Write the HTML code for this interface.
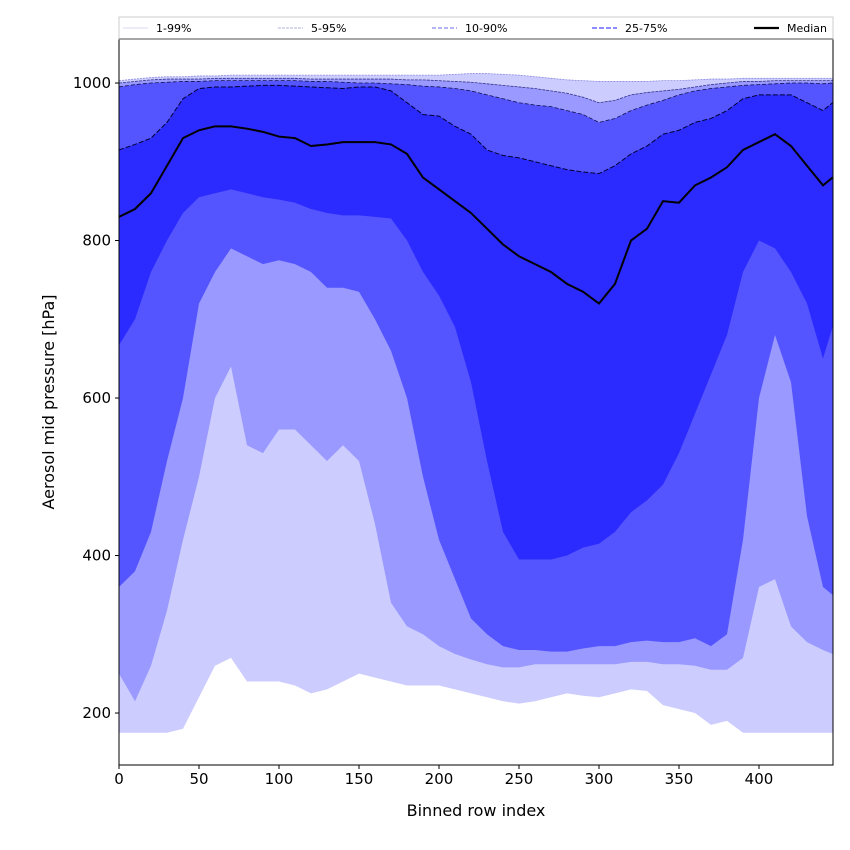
<!DOCTYPE html>
<html><head><meta charset="utf-8"><style>
html,body{margin:0;padding:0;background:#fff;}
svg{display:block;font-family:"DejaVu Sans","Liberation Sans",sans-serif;}
</style></head><body>
<svg id="chart" width="850" height="850" viewBox="0 0 850 850"></svg>
<script>
const xs = [0,10,20,30,40,50,60,70,80,90,100,110,120,130,140,150,160,170,180,190,200,210,220,230,240,250,260,270,280,290,300,310,320,330,340,350,360,370,380,390,400,410,420,430,440,446];
const p1 = [175,175,175,175,180,220,260,270,240,240,240,235,225,230,240,250,245,240,235,235,235,230,225,220,215,212,215,220,225,222,220,225,230,228,210,205,200,185,190,175,175,175,175,175,175,175];
const p5 = [250,215,260,330,420,500,600,640,540,530,560,560,540,520,540,520,440,340,310,300,285,275,268,262,258,258,262,262,262,262,262,262,265,265,262,262,260,255,255,270,360,370,310,290,280,275];
const p10 = [360,380,430,520,600,720,760,790,780,770,775,770,760,740,740,735,700,660,600,500,420,370,320,300,285,280,280,278,278,282,285,285,290,292,290,290,295,285,300,420,600,680,620,450,360,350];
const p25 = [667,700,760,800,835,855,860,865,860,855,852,848,840,835,832,832,830,828,800,760,730,690,620,520,430,395,395,395,400,410,415,430,455,470,490,530,580,630,680,760,800,790,760,720,650,690];
const median = [830,840,860,895,930,940,945,945,942,938,932,930,920,922,925,925,925,922,910,880,865,850,835,815,795,780,770,760,745,735,720,745,800,815,850,848,870,880,893,915,925,935,920,895,870,880];
const p75 = [915,922,930,950,980,993,995,995,996,997,997,996,995,994,993,995,995,990,975,960,958,945,935,915,908,905,900,895,890,887,885,895,910,920,935,940,950,955,965,980,985,985,985,975,965,975];
const p90 = [995,998,1000,1001,1002,1002,1003,1003,1003,1003,1003,1003,1002,1002,1001,1000,1000,999,998,996,995,993,990,985,980,975,972,970,965,960,950,955,965,972,978,985,990,993,995,997,998,999,1000,1000,999,1000];
const p95 = [1000,1002,1004,1005,1005,1005,1006,1006,1006,1006,1006,1006,1005,1005,1005,1005,1005,1005,1004,1004,1003,1002,1001,999,997,995,993,990,987,982,975,978,985,988,990,992,995,998,1000,1002,1002,1003,1003,1003,1003,1003];
const p99 = [1003,1005,1007,1008,1008,1009,1009,1010,1010,1010,1010,1010,1010,1010,1010,1010,1010,1010,1010,1010,1010,1011,1012,1012,1011,1010,1008,1006,1004,1003,1002,1002,1002,1002,1003,1003,1004,1005,1005,1006,1006,1006,1006,1006,1006,1006];
const xTicks = [0,50,100,150,200,250,300,350,400];
const yTicks = [200,400,600,800,1000];
const legendLabels = ["1-99%","5-95%","10-90%","25-75%","Median"];

const L=119,T=39,R=833,B=765;
const xMin=0,xMax=446.25,yMin=134,yMax=1055.9;
const sx=v=>L+(v-xMin)/(xMax-xMin)*(R-L);
const sy=v=>B-(v-yMin)/(yMax-yMin)*(B-T);
const NS="http://www.w3.org/2000/svg";
const svg=document.getElementById('chart');
function mk(tag,attrs,parent){const e=document.createElementNS(NS,tag);for(const k in attrs)e.setAttribute(k,attrs[k]);(parent||svg).appendChild(e);return e;}

const clip=mk('clipPath',{id:'cp'});mk('rect',{x:L,y:T,width:R-L,height:B-T},clip);
const g=mk('g',{'clip-path':'url(#cp)'});



function band(lo,hi,color,name){
  let d='M'+xs.map((x,i)=>sx(x)+','+sy(hi[i])).join('L');
  for(let i=xs.length-1;i>=0;i--)d+='L'+sx(xs[i])+','+sy(lo[i]);
  const p=mk('path',{d:d+'Z',fill:color,stroke:'none'},g);
  
  
}
function line(arr,color,w,dash,name){
  const p=mk('path',{d:'M'+xs.map((x,i)=>sx(x)+','+sy(arr[i])).join('L'),fill:'none',stroke:color,'stroke-width':w,'stroke-dasharray':dash||'none'},g);
  
  
}
band(p1,p99,'#ccccff','band-1-99');
band(p5,p95,'#9999ff','band-5-95');
band(p10,p90,'#5555ff','band-10-90');
band(p25,p75,'#2b2bff','band-25-75');
line(p99,'#8888dd',0.8,'2,1','line-p99');
line(p95,'#333388',0.8,'3,1','line-p95');
line(p90,'#111155',0.8,'4,2','line-p90');
line(p75,'#000033',1,'5,2','line-p75');
line(median,'#000000',2,null,'median-line');

const frame=mk('rect',{x:L,y:T,width:R-L,height:B-T,fill:'none',stroke:'#000','stroke-width':1});



xTicks.forEach(t=>{
  const x=sx(t);
  const tk=mk('line',{x1:x,x2:x,y1:B,y2:B+4,stroke:'#000'});
  
  
  const tx=mk('text',{x:x,y:B+19,'font-size':15,'text-anchor':'middle'});tx.textContent=t;
  
  
});
yTicks.forEach(t=>{
  const y=sy(t);
  const tk=mk('line',{x1:L-4,x2:L,y1:y,y2:y,stroke:'#000'});
  
  
  const tx=mk('text',{x:L-8,y:y+5,'font-size':15,'text-anchor':'end'});tx.textContent=t;
  
  
});
const xt=mk('text',{x:(L+R)/2,y:816,'font-size':16,'text-anchor':'middle'});xt.textContent='Binned row index';


const yt=mk('text',{x:0,y:0,'font-size':16,'text-anchor':'middle',transform:'translate(54,402) rotate(-90)'});yt.textContent='Aerosol mid pressure [hPa]';



const lg=mk('g',{});


mk('rect',{x:119,y:17,width:714,height:22,fill:'#fff',stroke:'#ccc','stroke-width':1},lg);
mk('line',{x1:119,x2:833,y1:39,y2:39,stroke:'#888','stroke-width':1.5},lg);
const lx=[123,278,432,592,754];
const lstyle=[['#ccccee',0.8,'none'],['#9999cc',0.8,'3,1'],['#8888ee',1.2,'4,2'],['#6666ff',1.6,'5,2'],['#000',2.2,'none']];
legendLabels.forEach((lab,i)=>{
  const eg=mk('g',{},lg);
  
  
  mk('line',{x1:lx[i],x2:lx[i]+25,y1:28,y2:28,stroke:lstyle[i][0],'stroke-width':lstyle[i][1],'stroke-dasharray':lstyle[i][2]},eg);
  const t=mk('text',{x:lx[i]+33,y:32,'font-size':11},eg);t.textContent=lab;
});
</script>
</body></html>
